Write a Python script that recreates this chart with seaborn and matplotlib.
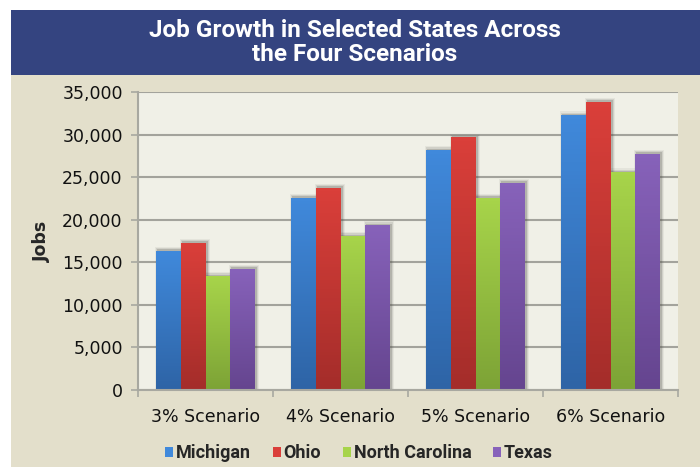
import numpy as np
import pandas as pd
import matplotlib
matplotlib.use("Agg")
import matplotlib.pyplot as plt
import seaborn as sns
from matplotlib import font_manager
from matplotlib.patches import Rectangle
from matplotlib.ticker import FuncFormatter, FixedLocator

scenarios = ["3% Scenario", "4% Scenario", "5% Scenario", "6% Scenario"]
states = ["Michigan", "Ohio", "North Carolina", "Texas"]
michigan = [16300, 22500, 28100, 32200]
ohio = [17200, 23700, 29600, 33800]
north_carolina = [13300, 18000, 22500, 25500]
texas = [14200, 19300, 24300, 27700]

top_colors = ["#4089DB", "#DA3F3A", "#A7D44A", "#8762BA"]
bottom_colors = ["#2E64A6", "#A42D2A", "#7DA336", "#65458F"]

df = pd.DataFrame({
    "Scenario": scenarios * 4,
    "State": np.repeat(states, 4),
    "Jobs": michigan + ohio + north_carolina + texas,
})

installed = {f.name for f in font_manager.fontManager.ttflist}
narrow = "Liberation Sans Narrow" if "Liberation Sans Narrow" in installed else "Roboto"

sns.set_theme(style="white")
plt.rcParams["font.family"] = ["DejaVu Sans"]

fig = plt.figure(figsize=(7, 4.67), dpi=100, facecolor="white")
# beige panel and title banner
fig.patches.append(Rectangle((11 / 700, 0), 1, 392 / 467, transform=fig.transFigure,
                             facecolor="#E3DFCB", edgecolor="none", zorder=-5))
fig.patches.append(Rectangle((11 / 700, 392 / 467), 1, 65 / 467, transform=fig.transFigure,
                             facecolor="#344480", edgecolor="none", zorder=-5))
fig.text(0.507, 0.909, "Job Growth in Selected States Across\nthe Four Scenarios",
         ha="center", va="center", color="white", fontsize=17.5, fontweight="bold",
         family=[narrow, "DejaVu Sans"], linespacing=1.1)

ax = fig.add_axes([138 / 700, 77 / 467, 540 / 700, 298 / 467])
ax.set_facecolor("#F0F0E7")

sns.barplot(data=df, x="Scenario", y="Jobs", hue="State", order=scenarios,
            hue_order=states, palette=top_colors, width=0.73, ax=ax,
            errorbar=None, legend=False, saturation=1)

# gradient fill + soft shadow for each bar
grad = np.linspace(0, 1, 64).reshape(-1, 1)
for i, bars in enumerate(ax.containers):
    cmap = matplotlib.colors.LinearSegmentedColormap.from_list(
        "g", [bottom_colors[i], top_colors[i]])
    for p in bars:
        x0, w, h = p.get_x(), p.get_width(), p.get_height()
        for k, a in enumerate([0.22, 0.12, 0.07]):
            s = (k + 1) * 0.006
            ax.add_patch(Rectangle((x0 + 0.012 - s, 0), w + 2 * s, h + 120 + s * 22000,
                                   facecolor="#4A4A44", alpha=a, edgecolor="none", zorder=1.5))
        p.set_alpha(0)
        ax.imshow(grad, extent=(x0, x0 + w, 0, h), origin="lower", cmap=cmap,
                  aspect="auto", zorder=2)
ax.set_xlim(-0.5, 3.5)
ax.set_ylim(0, 35000)

ax.yaxis.set_major_locator(FixedLocator(np.arange(0, 35001, 5000)))
ax.yaxis.set_major_formatter(FuncFormatter(lambda v, _: f"{int(v):,}"))
ax.grid(axis="y", color="#A3A39C", linewidth=1.5, zorder=1)
ax.set_axisbelow(True)

for side in ["top", "right"]:
    ax.spines[side].set_visible(False)
for side in ["left", "bottom"]:
    ax.spines[side].set_color("#A8A8A0")
    ax.spines[side].set_linewidth(1.5)

ax.tick_params(axis="y", which="major", left=True, length=5, width=1.2, color="#A8A8A0",
               labelsize=12.5, pad=6, labelcolor="#111111")
ax.tick_params(axis="x", which="major", bottom=False, labelsize=12.5, pad=7,
               labelcolor="#111111")
ax.set_xticks([-0.5, 0.5, 1.5, 2.5, 3.5], minor=True)
ax.tick_params(axis="x", which="minor", bottom=True, length=5, width=1.2, color="#A8A8A0")

ax.set_xlabel("")
ax.set_ylabel("Jobs", fontsize=12.5, fontweight="bold", labelpad=8)

handles = [Rectangle((0, 0), 1, 1, facecolor=c, edgecolor="none") for c in top_colors]
leg = fig.legend(handles, states, loc="center", bbox_to_anchor=(0.513, 0.029), ncol=4,
                 frameon=False, handlelength=0.45, handleheight=0.45, handletextpad=0.15,
                 columnspacing=1.2, prop={"family": [narrow, "DejaVu Sans"],
                                          "weight": "bold", "size": 13})

fig.savefig("out.png", dpi=100, facecolor="white")
